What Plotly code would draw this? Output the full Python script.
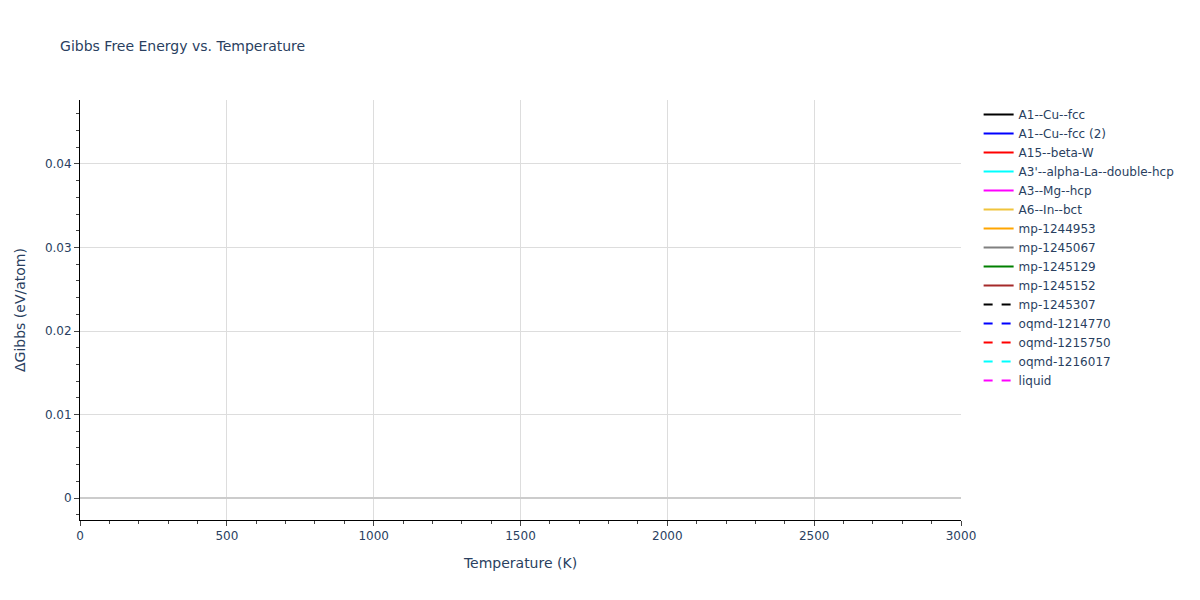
import plotly.graph_objects as go

# phases shown in the legend (no curve falls inside the plotted window)
phases = ["A1--Cu--fcc", "A1--Cu--fcc (2)", "A15--beta-W", "A3'--alpha-La--double-hcp",
          "A3--Mg--hcp", "A6--In--bct", "mp-1244953", "mp-1245067", "mp-1245129",
          "mp-1245152", "mp-1245307", "oqmd-1214770", "oqmd-1215750", "oqmd-1216017",
          "liquid"]
temperature = [0, 3000]
gibbs = {name: [None, None] for name in phases}

colors = ["black", "blue", "red", "cyan", "magenta", "#f0c43c", "orange", "gray",
          "green", "brown", "black", "blue", "red", "cyan", "magenta"]
dashes = ["solid"] * 10 + ["dash"] * 5

fig = go.Figure()
for name, c, d in zip(phases, colors, dashes):
    fig.add_trace(go.Scatter(x=temperature, y=gibbs[name], mode="lines", name=name,
                             line=dict(color=c, dash=d)))

fig.update_layout(
    title=dict(text="Gibbs Free Energy vs. Temperature", font=dict(size=14),
               x=0.044, y=0.935, yanchor="middle"),
    template="plotly_white",
    font=dict(family="Verdana, DejaVu Sans, sans-serif", size=12),
    margin=dict(l=72, t=92, b=72),
    showlegend=True,
)
fig.update_xaxes(title="Temperature (K)", range=[0, 3000], showline=True, linecolor="black",
                 ticks="outside", minor=dict(ticks="outside", nticks=5),
                 gridcolor="#dddddd", zeroline=False)
fig.update_yaxes(title="ΔGibbs (eV/atom)", range=[-0.00263, 0.04766], showline=True,
                 linecolor="black", ticks="outside", minor=dict(ticks="outside", nticks=5),
                 gridcolor="#dddddd", zeroline=True, zerolinecolor="#cccccc", zerolinewidth=2)
fig.write_html("out.html")
